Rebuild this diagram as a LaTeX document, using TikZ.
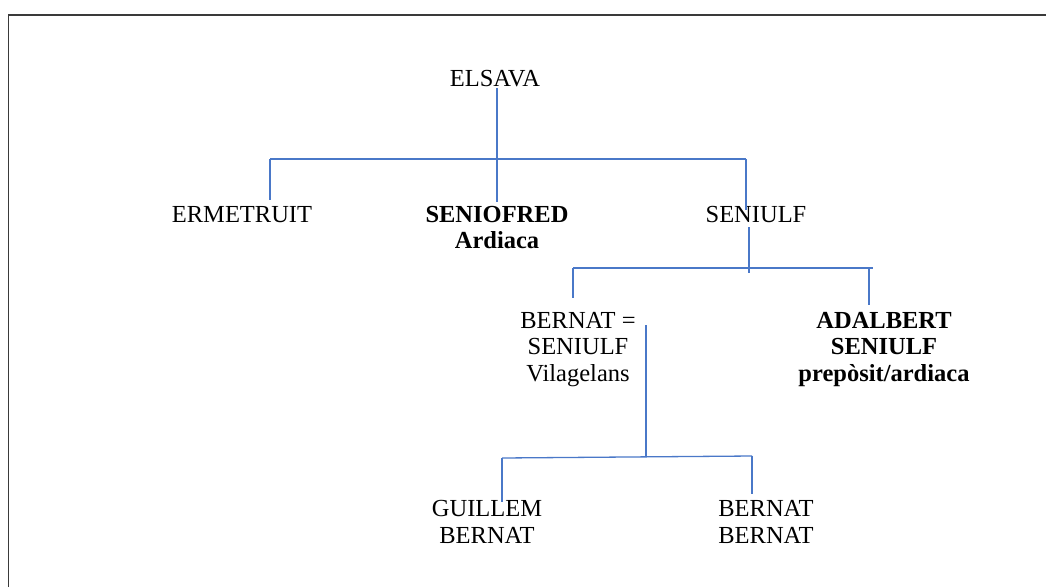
\documentclass[tikz,border=0pt]{standalone}
\usepackage{fontspec}
\setmainfont{Liberation Serif}
\definecolor{linkblue}{HTML}{4A78C8}
\definecolor{framegray}{HTML}{3A3A3A}
\begin{document}
\begin{tikzpicture}[x=1pt,y=-1pt,
  person/.style={anchor=base,align=center,inner sep=2pt,
    font=\fontsize{24.5}{26.5}\selectfont},
  bperson/.style={person,font=\fontsize{24.5}{26.5}\selectfont\bfseries},
  link/.style={draw=linkblue,line width=1.3pt}]
\useasboundingbox (0,0) rectangle (1046,587);
% page frame
\draw[framegray,line width=1.6pt] (8.5,587) -- (8.5,15) -- (1046,15);

% people (each placed by the baseline of its last line)
\node[person]  (elsava)    at (495,86)    {ELSAVA};
\node[person]  (ermetruit) at (242,222)   {ERMETRUIT};
\node[bperson] (seniofred) at (497,248.5) {SENIOFRED\\Ardiaca};
\node[person]  (seniulf)   at (756,222)   {SENIULF};
\node[person]  (bernat)    at (578,381)   {BERNAT =\\SENIULF\\Vilagelans};
\node[bperson] (adalbert)  at (884,381)   {ADALBERT\\SENIULF\\prepòsit/ardiaca};
\node[person]  (guillem)   at (487,543)   {GUILLEM\\BERNAT};
\node[person]  (bernatb)   at (766,543)   {BERNAT\\BERNAT};

% junction points of the family bars
\coordinate (e1) at (497,88);
\coordinate (e2) at (497,202);
\coordinate (b1l) at (270,159);
\coordinate (b1r) at (746,159);
\coordinate (d1l) at (270,200);
\coordinate (d1r) at (746,210);

\coordinate (s1) at (749,227);
\coordinate (s2) at (749,273);
\coordinate (b2l) at (573,268);
\coordinate (b2r) at (873,268);
\coordinate (b2d) at (869,268);
\coordinate (d2l) at (573,298);
\coordinate (d2r) at (869,305);

\coordinate (t1) at (646,325);
\coordinate (t2) at (646,457);
\coordinate (b3l) at (502,458);
\coordinate (b3r) at (752,456);
\coordinate (d3l) at (502,502);
\coordinate (d3r) at (752,494);

% Elsava's children
\draw[link] (e1) -- (e2);
\draw[link] (b1l) -- (b1r);
\draw[link] (b1l) -- (d1l);
\draw[link] (b1r) -- (d1r);

% Seniulf's children
\draw[link] (s1) -- (s2);
\draw[link] (b2l) -- (b2r);
\draw[link] (b2l) -- (d2l);
\draw[link] (b2d) -- (d2r);

% Bernat's children
\draw[link] (t1) -- (t2);
\draw[link] (b3l) -- (b3r);
\draw[link] (b3l) -- (d3l);
\draw[link] (b3r) -- (d3r);
\end{tikzpicture}
\end{document}
